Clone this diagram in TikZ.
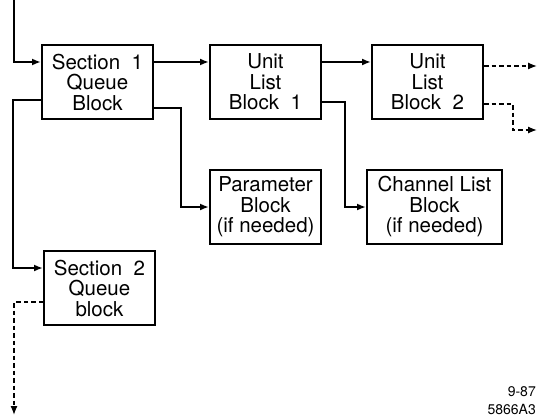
\documentclass[tikz,border=0pt]{standalone}
\usepackage{fontspec}
\setmainfont{TeX Gyre Heros}
\usetikzlibrary{arrows.meta, positioning}

\begin{document}
\begin{tikzpicture}[
    node distance=50pt,
    blk/.style={draw, line width=2pt, minimum width=111pt, minimum height=74pt, inner sep=0pt, align=center, font=\fontsize{20.5}{20.5}\selectfont},
    arr/.style={-{Latex[length=9pt,width=7pt]}, line width=2pt},
    dsh/.style={-{Latex[length=9pt,width=7pt]}, line width=1.3pt, dash pattern=on 4.5pt off 3pt},
]
\useasboundingbox (0,0) rectangle (537pt,-417pt);

\node[blk] (s1q) at (97.5pt,-82pt) {Section~~1\\Queue\\Block};
\node[blk, right=55pt of s1q] (ul1) {Unit\\List\\Block~~1};
\node[blk, right=49pt of ul1] (ul2) {Unit\\List\\Block~~2};
\node[blk, below=49pt of ul1.south west, anchor=north west] (pb) {Parameter\\Block\\(if needed)};
\node[blk, minimum width=135pt, right=44pt of pb] (cl) {Channel List\\Block\\(if needed)};
\node[blk, below=130pt of s1q.south west, anchor=north west, xshift=2pt] (s2q) {Section~~2\\Queue\\block};

\coordinate (in) at (14pt,0);
\coordinate (more1) at (537pt,-66pt);
\coordinate (more2) at (537pt,-130pt);
\coordinate (more3) at (14pt,-415pt);

\draw[arr] (in) |- ([yshift=20pt]s1q.west);
\draw[arr] ([yshift=-18pt]s1q.west) -- ++(-28pt,0) |- ([yshift=20pt]s2q.west);
\draw[arr] ([yshift=20pt]s1q.east) -- ([yshift=20pt]ul1.west);
\draw[arr] ([yshift=20pt]ul1.east) -- ([yshift=20pt]ul2.west);
\draw[arr] ([yshift=-26pt]s1q.east) -- ++(27pt,0) |- (pb.west);
\draw[arr] ([yshift=-20pt]ul1.east) -- ++(23pt,0) |- (cl.west);
\draw[dsh] ([yshift=16pt]ul2.east) -- (more1);
\draw[dsh] ([yshift=-22pt]ul2.east) -- ++(29pt,0) |- (more2);
\draw[dsh] ([yshift=-14pt]s2q.west) -| (more3);

\node[anchor=south east, inner sep=0pt, align=right, font=\fontsize{14}{18}\selectfont] (tag) at (536pt,-415pt) {9-87\\5866A3};

\end{tikzpicture}
\end{document}
